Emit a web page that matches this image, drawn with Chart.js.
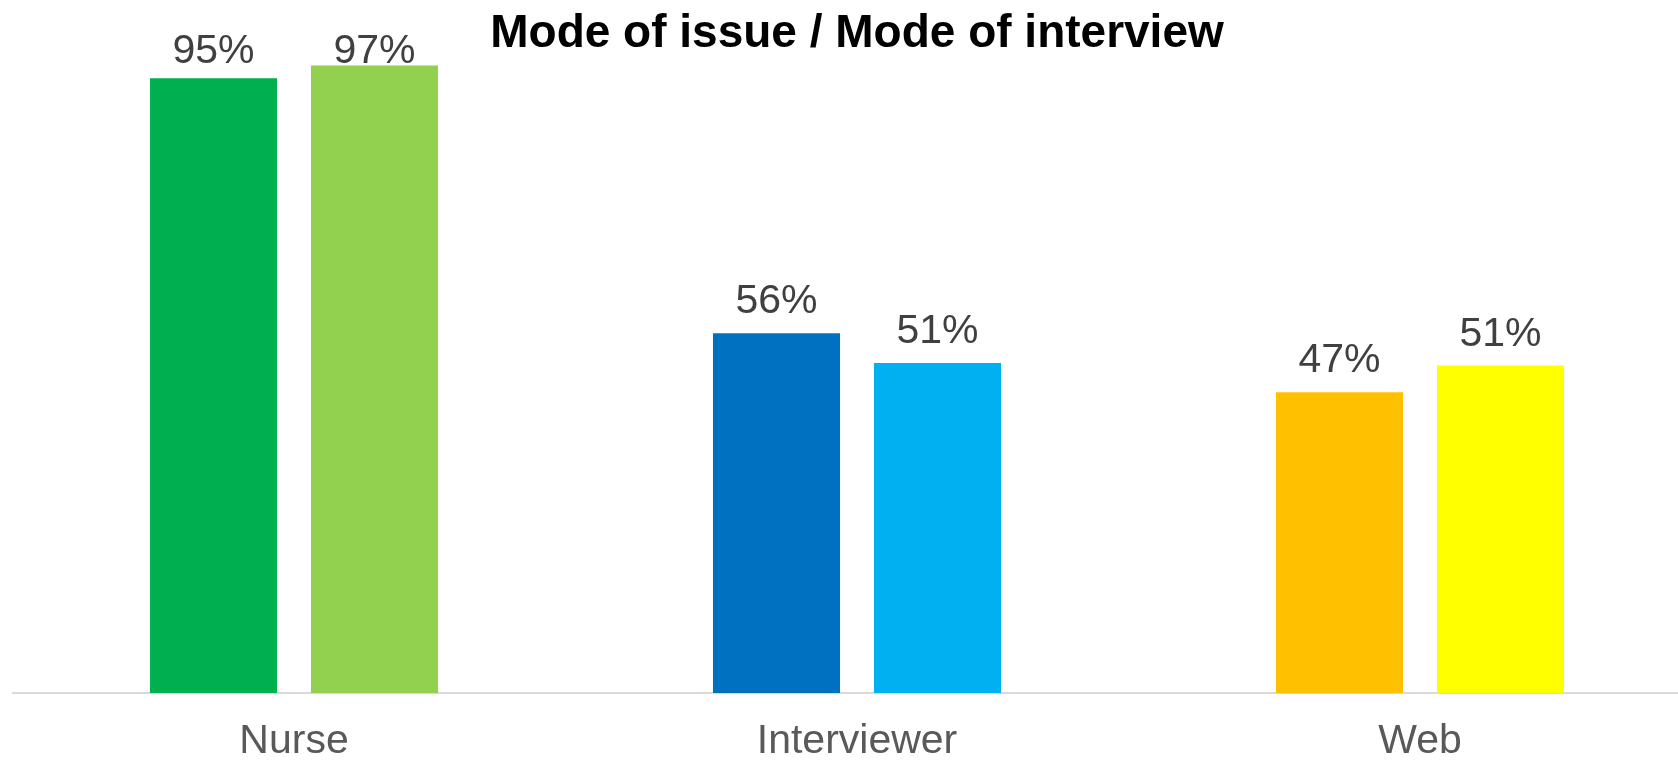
<!DOCTYPE html>
<html>
<head>
<meta charset="utf-8">
<script src="https://cdn.jsdelivr.net/npm/chart.js@4/dist/chart.umd.min.js"></script>
<style>
  html, body { margin: 0; padding: 0; background: #ffffff; overflow: hidden; }
  #wrap { width: 1678px; height: 760px; overflow: hidden; position: relative; }
  canvas { display: block; }
</style>
</head>
<body>
<div id="wrap"><canvas id="c" width="1714" height="760" style="width:1714px;height:760px"></canvas></div>
<script>
const categories = ['Nurse', 'Interviewer', 'Web'];
const seriesNames = ['Mode of issue', 'Mode of interview'];
const issueValues = [95, 55.6, 46.5];
const interviewValues = [97, 51, 50.6];
const issueColors = ['#00B050', '#0070C0', '#FFC000'];
const interviewColors = ['#92D050', '#00B0F0', '#FFFF00'];
const titleText = 'Mode of issue / Mode of interview';

const valueLabels = {
  id: 'valueLabels',
  afterDatasetsDraw(chart) {
    const ctx = chart.ctx;
    ctx.save();
    ctx.font = '41px "Liberation Sans", Arial, sans-serif';
    ctx.fillStyle = '#404040';
    ctx.textAlign = 'center';
    ctx.textBaseline = 'alphabetic';
    chart.data.datasets.forEach((ds, di) => {
      const meta = chart.getDatasetMeta(di);
      meta.data.forEach((bar, i) => {
        const y = Math.max(bar.y - 20, 63);
        ctx.fillText(Math.round(ds.data[i]) + '%', bar.x, y);
      });
    });
    ctx.restore();
  }
};

new Chart(document.getElementById('c'), {
  type: 'bar',
  data: {
    labels: categories,
    datasets: [
      { label: seriesNames[0], data: issueValues, backgroundColor: issueColors, borderWidth: 0 },
      { label: seriesNames[1], data: interviewValues, backgroundColor: interviewColors, borderWidth: 0 }
    ]
  },
  options: {
    responsive: false,
    animation: false,
    devicePixelRatio: 1,
    categoryPercentage: 0.572,
    barPercentage: 0.789,
    layout: { padding: { left: 12.5, right: 12.5, top: 0, bottom: 0 } },
    plugins: {
      legend: { display: false },
      tooltip: { enabled: false },
      title: {
        display: true,
        text: titleText,
        color: '#000000',
        font: { family: '"Liberation Sans", Arial, sans-serif', size: 46, weight: 'bold', lineHeight: 0.5217 },
        padding: { top: 22, bottom: 0 }
      }
    },
    scales: {
      x: {
        grid: { display: false, drawTicks: false },
        border: { display: true, color: '#D9D9D9', width: 2 },
        ticks: {
          color: '#595959',
          padding: 28.3,
          font: { family: '"Liberation Sans", Arial, sans-serif', size: 41, lineHeight: 1 }
        },
        afterFit(scale) { scale.height = 67; }
      },
      y: {
        display: false,
        min: 0,
        max: 100
      }
    }
  },
  plugins: [valueLabels]
});
</script>
</body>
</html>
